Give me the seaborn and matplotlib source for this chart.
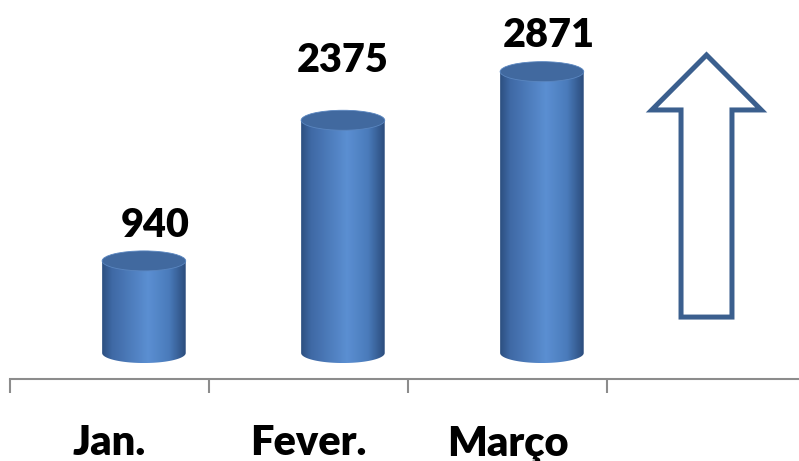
import numpy as np
import pandas as pd
import matplotlib
matplotlib.use("Agg")
import matplotlib.pyplot as plt
from matplotlib.colors import LinearSegmentedColormap
from matplotlib.patches import Polygon, Ellipse
from matplotlib.transforms import blended_transform_factory, offset_copy
import seaborn as sns

# Monthly totals
months = ["Jan.", "Fever.", "Março"]
values = [940, 2375, 2871]

# Label placement tweaks (pixels): horizontal shift and lift above the cylinder top
label_shift_px = [11, 0, 7]
label_lift_px = [14, 38, 15]

sns.set_style("white")
plt.rcParams["font.family"] = ["Lato", "DejaVu Sans"]

W, H = 799, 461
fig = plt.figure(figsize=(W / 100, H / 100), dpi=100)
ax = fig.add_axes([10 / W, 82 / H, 796 / W, 379 / H])

df = pd.DataFrame({"mes": months, "valor": values})
sns.barplot(data=df, x="mes", y="valor", order=months, width=0.42,
            color="#4f81bd", errorbar=None, ax=ax)

XLIM = (-0.5, 3.5)
YLIM = (-265, 3602)
ax.set_xlim(*XLIM)
ax.set_ylim(*YLIM)

body_cmap = LinearSegmentedColormap.from_list(
    "cyl", [(0.0, "#2c4f80"), (0.12, "#3f69a5"), (0.55, "#5b8fd2"),
            (0.80, "#4a7bbb"), (1.0, "#2b4c7c")])
grad = np.linspace(0, 1, 256).reshape(1, -1)

depth_shift = 0.173       # cylinders sit behind the category slot
cap_ry = 102              # vertical semi-axis of the elliptical caps (data units)

bars = [p for p in ax.patches if np.isfinite(p.get_height()) and p.get_height() > 0]
for i, p in enumerate(bars):
    p.set_visible(False)
    x0 = p.get_x() + depth_shift
    w = p.get_width()
    h = p.get_height()
    cx = x0 + w / 2
    # body outline: straight sides plus the lower half of the base ellipse
    t = np.linspace(np.pi, 2 * np.pi, 60)
    arc = np.column_stack([cx + (w / 2) * np.cos(t), cap_ry * np.sin(t)])
    pts = np.vstack([[x0, h], arc, [x0 + w, h]])
    clip = Polygon(pts, closed=True, transform=ax.transData)
    im = ax.imshow(grad, cmap=body_cmap, aspect="auto",
                   extent=[x0, x0 + w, -cap_ry, h], zorder=2,
                   interpolation="bicubic")
    im.set_clip_path(clip)
    # top cap
    ax.add_patch(Ellipse((cx, h), w, 2 * cap_ry, facecolor="#41699f",
                         edgecolor="#5a86c0", lw=0.6, zorder=3))
    # value label
    tr = offset_copy(ax.transData, fig=fig, x=label_shift_px[i] * 0.72,
                     y=label_lift_px[i] * 0.72, units="points")
    ax.text(cx, h + cap_ry, f"{int(h)}", transform=tr, ha="center",
            va="baseline", fontsize=28.5, fontweight="heavy", color="black",
            zorder=4)

ax.set_xlim(*XLIM)
ax.set_ylim(*YLIM)

# upward arrow in the empty fourth slot
ac = 3.0
head_half, shaft_half = 0.275, 0.128
tip_y, base_y, foot_y = 3041, 2480, 367
arrow_pts = [(ac, tip_y), (ac + head_half, base_y), (ac + shaft_half, base_y),
             (ac + shaft_half, foot_y), (ac - shaft_half, foot_y),
             (ac - shaft_half, base_y), (ac - head_half, base_y)]
ax.add_patch(Polygon(arrow_pts, closed=True, facecolor="white",
                     edgecolor="#3b5f8e", lw=3.6, joinstyle="miter", zorder=3))

# axis styling: only the baseline, with ticks at category boundaries
for s in ["top", "left", "right"]:
    ax.spines[s].set_visible(False)
ax.spines["bottom"].set_color("#8c8c8c")
ax.spines["bottom"].set_linewidth(1.5)
ax.set_yticks([])
ax.set_xticks(np.arange(-0.5, 4.0, 1.0))
ax.set_xticklabels([])
ax.tick_params(axis="x", which="major", bottom=True, length=10, width=1.5,
               color="#8c8c8c", direction="out")
ax.set_xlabel("")
ax.set_ylabel("")

# category names below the axis
lab_tr = blended_transform_factory(ax.transData, fig.transFigure)
for i, m in enumerate(months):
    ax.text(i, (H - 455) / H, m, transform=lab_tr, ha="center",
            va="baseline", fontsize=30, fontweight="heavy", color="black",
            clip_on=False)

fig.savefig("out.png", dpi=100)
